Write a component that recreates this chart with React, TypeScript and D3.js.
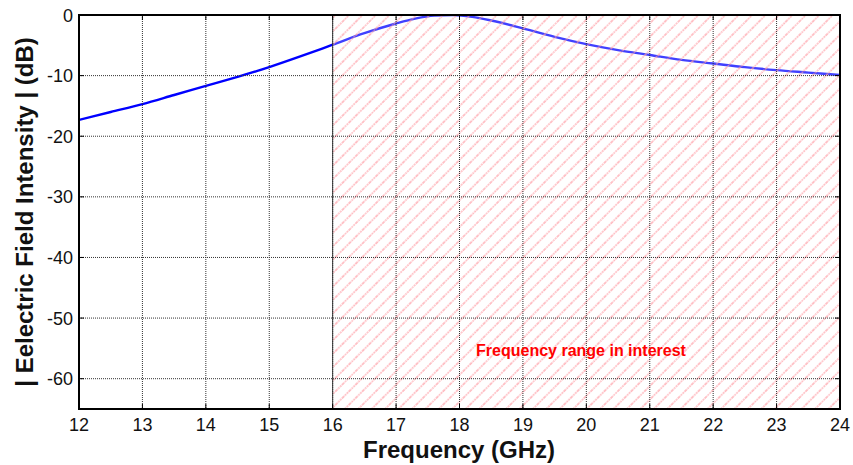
import React from "react";
import * as d3 from "d3";

const freqs = [12, 12.5, 13, 13.5, 14, 14.5, 15, 15.5, 16, 16.5, 17, 17.3, 17.6, 17.9, 18.2, 18.5, 19, 19.5, 20, 20.5, 21, 21.5, 22, 22.5, 23, 23.5, 24];
const intensity = [-17.3, -16.0, -14.7, -13.2, -11.7, -10.2, -8.6, -6.8, -4.9, -3.0, -1.4, -0.6, -0.1, 0, -0.3, -0.9, -2.2, -3.6, -4.8, -5.8, -6.6, -7.4, -8.0, -8.6, -9.1, -9.5, -9.9];
const xTicks = [12, 13, 14, 15, 16, 17, 18, 19, 20, 21, 22, 23, 24];
const yTicks = [0, -10, -20, -30, -40, -50, -60];
const regionStart = 16;
const regionLabel = "Frequency range in interest";
const xTitle = "Frequency (GHz)";
const yTitle = "| Eelectric Field Intensity | (dB)";

export default function App() {
  const W = 853, H = 465;
  const L = 79, R = 840, T = 15, B = 409;
  const x = d3.scaleLinear().domain([12, 24]).range([L, R]);
  const y = d3.scaleLinear().domain([-65, 0]).range([B, T]);
  const pts = freqs.map((f, i) => [f, intensity[i]] as [number, number]);
  const line = d3.line<[number, number]>().x(d => x(d[0])).y(d => y(d[1])).curve(d3.curveMonotoneX);
  const font = "'Liberation Sans', Arial, sans-serif";
  const hs = 9.5;
  return (
    <svg width={W} height={H} style={{ position: "absolute", left: 0, top: 0, background: "#fff" }} fontFamily={font}>
      <defs>
        <pattern id="hatch" width={hs} height={hs} patternUnits="userSpaceOnUse" patternTransform="rotate(45)">
          <line x1={1} y1={0} x2={1} y2={hs} stroke="#ff9da5" strokeWidth={1.2} strokeDasharray="1.8 0.9" />
        </pattern>
        <clipPath id="plot"><rect x={L} y={T} width={R - L} height={B - T} /></clipPath>
      </defs>
      <rect x={L} y={T} width={R - L} height={B - T} fill="#fff" />
      <g clipPath="url(#plot)">
        <path d={line(pts) || ""} fill="none" stroke="#0000ff" strokeWidth={2.4} />
      </g>
      <rect x={x(regionStart)} y={T} width={R - x(regionStart)} height={B - T} fill="#fff" fillOpacity={0.25} />
      <rect x={x(regionStart)} y={T} width={R - x(regionStart)} height={B - T} fill="url(#hatch)" />
      {xTicks.map(t => (
        <line key={"gx" + t} x1={x(t)} x2={x(t)} y1={T} y2={B} stroke="#333" strokeWidth={1} strokeDasharray="1 1" />
      ))}
      {yTicks.map(t => (
        <line key={"gy" + t} x1={L} x2={R} y1={y(t)} y2={y(t)} stroke="#333" strokeWidth={1} strokeDasharray="1 1" />
      ))}
      <line x1={x(regionStart)} x2={x(regionStart)} y1={T} y2={B} stroke="#333" strokeWidth={1} />
      <text x={581} y={356} textAnchor="middle" fill="#ff0000" fontWeight="bold" fontSize={16}>{regionLabel}</text>
      {xTicks.map(t => (
        <g key={"tx" + t}>
          <line x1={x(t)} x2={x(t)} y1={B} y2={B - 5} stroke="#000" />
          <line x1={x(t)} x2={x(t)} y1={T} y2={T + 5} stroke="#000" />
          <text x={x(t)} y={431} textAnchor="middle" fontSize={18} fill="#111">{t}</text>
        </g>
      ))}
      {yTicks.map(t => (
        <g key={"ty" + t}>
          <line x1={L} x2={L + 5} y1={y(t)} y2={y(t)} stroke="#000" />
          <line x1={R} x2={R - 5} y1={y(t)} y2={y(t)} stroke="#000" />
          <text x={73} y={y(t) + 6.5} textAnchor="end" fontSize={18} fill="#111">{t}</text>
        </g>
      ))}
      <rect x={L} y={T} width={R - L} height={B - T} fill="none" stroke="#000" strokeWidth={2} />
      <text x={459} y={458} textAnchor="middle" fontSize={24} fontWeight="bold" fill="#111">{xTitle}</text>
      <text transform={`translate(33,${(T + B) / 2}) rotate(-90)`} textAnchor="middle" fontSize={24} fontWeight="bold" fill="#111">{yTitle}</text>
    </svg>
  );
}
